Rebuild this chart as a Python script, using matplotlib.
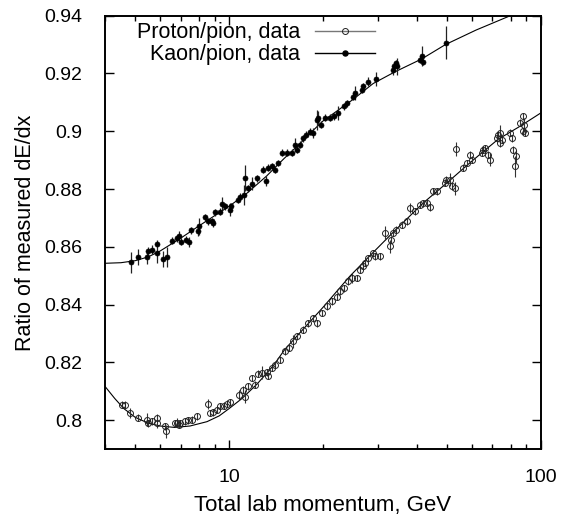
import matplotlib
matplotlib.use("Agg")
import matplotlib.pyplot as plt
from matplotlib.lines import Line2D
from matplotlib.ticker import FixedLocator, NullFormatter
import numpy as np

plt.rcParams['font.family'] = ['Liberation Sans', 'DejaVu Sans']

# ---------------- data ----------------
kaon_x = [4.84, 5.12, 5.47, 5.51, 5.65, 5.86, 5.86, 6.16, 6.31, 6.55, 6.80, 6.91, 7.01, 7.28,
          7.46, 7.55, 7.94, 8.00, 8.38, 8.54, 8.80, 8.90, 9.02, 9.36, 9.47, 9.71, 10.07, 10.15,
          10.71, 10.85, 11.25, 11.20, 11.53, 11.83, 12.33, 12.83, 13.15, 13.38, 13.70, 14.05,
          14.40, 14.83, 15.30, 15.89, 16.30, 16.50, 16.90, 17.30, 17.66, 18.20, 18.65, 19.10,
          19.30, 19.70, 20.30, 21.10, 21.70, 22.35, 23.3, 23.9, 25.05, 25.3, 26.7, 27.0, 28.0,
          29.6, 33.65, 33.8, 34.3, 34.6, 41.0, 41.5, 42.0, 49.6]
kaon_y = [0.8546, 0.8565, 0.8565, 0.8584, 0.8590, 0.8578, 0.8610, 0.8558, 0.8564, 0.8621,
          0.8630, 0.8636, 0.8617, 0.8625, 0.8617, 0.8657, 0.8653, 0.8671, 0.8702, 0.8688,
          0.8688, 0.8682, 0.8720, 0.8722, 0.8749, 0.8740, 0.8728, 0.8740, 0.8763, 0.8774,
          0.8838, 0.8780, 0.8803, 0.8818, 0.8838, 0.8867, 0.8829, 0.8873, 0.8878, 0.8867,
          0.8890, 0.8925, 0.8925, 0.8925, 0.8953, 0.8936, 0.8953, 0.8976, 0.8988, 0.8999,
          0.8994, 0.9040, 0.9046, 0.9022, 0.9046, 0.9046, 0.9051, 0.9063, 0.9086, 0.9097,
          0.9120, 0.9132, 0.9144, 0.9155, 0.9172, 0.9181, 0.9213, 0.9227, 0.9236, 0.9224,
          0.9247, 0.9259, 0.9241, 0.9307]
kaon_err = [0.0035, 0.0029, 0.0023, 0.0015, 0.0015, 0.0035, 0.0012, 0.0029, 0.0035, 0.0012,
            0.0012, 0.0017, 0.0012, 0.0012, 0.0017, 0.0012, 0.0017, 0.0029, 0.0012, 0.0012,
            0.0012, 0.0012, 0.0012, 0.0012, 0.0023, 0.0012, 0.0023, 0.0012, 0.0012, 0.0012,
            0.0046, 0.0035, 0.0012, 0.0023, 0.0012, 0.0012, 0.0017, 0.0012, 0.0012, 0.0012,
            0.0012, 0.0012, 0.0012, 0.0012, 0.0023, 0.0012, 0.0012, 0.0012, 0.0012, 0.0012,
            0.0017, 0.0035, 0.0023, 0.0012, 0.0012, 0.0012, 0.0012, 0.0023, 0.0012, 0.0012,
            0.0012, 0.0023, 0.0012, 0.0012, 0.0017, 0.0023, 0.0017, 0.0012, 0.0012, 0.0029,
            0.0012, 0.0035, 0.0012, 0.0058]

proton_x = [4.53, 4.64, 4.81, 5.09, 5.45, 5.51, 5.65, 5.86, 5.86, 6.23, 6.27, 6.71, 6.80, 6.89,
            6.96, 7.22, 7.40, 7.59, 7.88, 8.58, 8.70, 8.90, 9.13, 9.36, 9.60, 9.84, 10.07,
            10.77, 11.10, 11.25, 11.53, 11.83, 12.12, 12.42, 12.73, 13.20, 13.38, 13.70, 14.05,
            14.58, 15.10, 15.60, 16.08, 16.50, 17.30, 17.97, 18.65, 19.10, 19.84, 20.60, 21.35,
            22.15, 22.70, 23.30, 24.10, 24.75, 25.70, 26.30, 27.00, 27.30, 28.00, 29.00, 29.30,
            30.50, 31.60, 32.90, 33.20, 33.60, 34.30, 35.80, 37.20, 38.10, 39.50, 41.00, 42.00,
            43.10, 44.20, 45.20, 46.40, 49.30, 49.80, 51.20, 51.80, 53.10, 53.40, 56.50, 57.90,
            59.30, 60.00, 64.70, 65.40, 66.30, 67.60, 68.80, 72.30, 73.00, 74.00, 75.0, 74.0,
            79.7, 80.9, 81.7, 83.3, 83.0, 86.0, 87.5, 88.0, 88.5, 89.0]
proton_y = [0.8054, 0.8054, 0.8025, 0.8008, 0.8002, 0.7990, 0.7996, 0.8008, 0.7990, 0.7979,
            0.7961, 0.7990, 0.7992, 0.7984, 0.7990, 0.7996, 0.8000, 0.8002, 0.8013, 0.8057,
            0.8025, 0.8027, 0.8037, 0.8048, 0.8050, 0.8057, 0.8062, 0.8088, 0.8105, 0.8082,
            0.8117, 0.8146, 0.8123, 0.8161, 0.8164, 0.8166, 0.8154, 0.8181, 0.8192, 0.8209,
            0.8238, 0.8250, 0.8273, 0.8290, 0.8313, 0.8336, 0.8353, 0.8336, 0.8371, 0.8394,
            0.8411, 0.8428, 0.8446, 0.8457, 0.8480, 0.8492, 0.8492, 0.8521, 0.8532, 0.8544,
            0.8561, 0.8578, 0.8567, 0.8567, 0.8648, 0.8602, 0.8625, 0.8648, 0.8659, 0.8677,
            0.8688, 0.8734, 0.8723, 0.8746, 0.8751, 0.8751, 0.8737, 0.8792, 0.8792, 0.8821,
            0.8832, 0.8832, 0.8809, 0.8803, 0.8938, 0.8873, 0.8890, 0.8919, 0.8901, 0.8925,
            0.8936, 0.8942, 0.8919, 0.8901, 0.8976, 0.8988, 0.8959, 0.8971, 0.8994, 0.8994,
            0.8976, 0.8936, 0.8913, 0.8878, 0.9030, 0.9051, 0.9000, 0.9022, 0.8995]
proton_err = [0.0012, 0.0012, 0.0017, 0.0012, 0.0023, 0.0012, 0.0012, 0.0012, 0.0017, 0.0012,
              0.0023, 0.0012, 0.0017, 0.0012, 0.0012, 0.0012, 0.0012, 0.0012, 0.0012, 0.0017,
              0.0012, 0.0012, 0.0012, 0.0012, 0.0012, 0.0012, 0.0012, 0.0017, 0.0012, 0.0023,
              0.0012, 0.0012, 0.0012, 0.0012, 0.0023, 0.0012, 0.0012, 0.0012, 0.0012, 0.0012,
              0.0012, 0.0012, 0.0023, 0.0012, 0.0012, 0.0012, 0.0012, 0.0012, 0.0012, 0.0012,
              0.0012, 0.0012, 0.0012, 0.0012, 0.0012, 0.0017, 0.0012, 0.0012, 0.0012, 0.0012,
              0.0012, 0.0012, 0.0012, 0.0012, 0.0023, 0.0023, 0.0012, 0.0012, 0.0012, 0.0012,
              0.0012, 0.0017, 0.0012, 0.0012, 0.0012, 0.0012, 0.0012, 0.0012, 0.0012, 0.0012,
              0.0012, 0.0023, 0.0012, 0.0023, 0.0023, 0.0012, 0.0012, 0.0012, 0.0012, 0.0012,
              0.0012, 0.0012, 0.0012, 0.0023, 0.0012, 0.0012, 0.0012, 0.0012, 0.0029, 0.0012,
              0.0012, 0.0012, 0.0023, 0.0035, 0.0012, 0.0012, 0.0012, 0.0023, 0.0012]

# fit curves
kaon_fit_x = [4.0, 4.5, 5.0, 5.5, 6.0, 7.0, 8.0, 9.0, 10.0, 11.4, 13.2, 15.0, 17.0, 18.0, 20.0,
              25.0, 29.0, 34.0, 41.5, 49.5, 62.0, 80.0, 100.0]
kaon_fit_y = [0.8543, 0.8545, 0.8552, 0.8565, 0.8585, 0.8630, 0.8672, 0.8708, 0.8740, 0.8785,
              0.8845, 0.8905, 0.8960, 0.8988, 0.9035, 0.9110, 0.9165, 0.9205, 0.9250, 0.9300,
              0.9350, 0.9400, 0.9450]
proton_fit_x = [4.0, 4.3, 4.6, 5.0, 5.5, 6.0, 6.7, 7.5, 8.5, 9.3, 10.0, 11.0, 12.3, 13.9, 15.1,
                17.0, 20.0, 24.4, 28.0, 33.6, 42.0, 50.0, 58.0, 65.5, 73.0, 85.8, 100.0]
proton_fit_y = [0.8117, 0.8075, 0.8040, 0.8010, 0.7990, 0.7980, 0.7975, 0.7980, 0.7995, 0.8015,
                0.8040, 0.8075, 0.8125, 0.8190, 0.8245, 0.8306, 0.8390, 0.8498, 0.8564, 0.8650,
                0.8752, 0.8821, 0.8882, 0.8930, 0.8972, 0.9017, 0.9063]

x_ticks = [10, 100]
x_ticklabels = ["10", "100"]
y_ticks = [0.80, 0.82, 0.84, 0.86, 0.88, 0.90, 0.92, 0.94]
y_ticklabels = ["0.8", "0.82", "0.84", "0.86", "0.88", "0.9", "0.92", "0.94"]

# ---------------- figure ----------------
fig = plt.figure(figsize=(5.63, 5.21), dpi=100)
ax = fig.add_axes([0.1865, 0.138, 0.9604 - 0.1865, 0.970 - 0.138])

ax.plot(proton_fit_x, proton_fit_y, color='black', lw=0.8, zorder=2)
ax.plot(kaon_fit_x, kaon_fit_y, color='black', lw=0.8, zorder=2)

ax.errorbar(proton_x, proton_y, yerr=proton_err, fmt='o', ms=4.3, mfc='none', mec='#222222',
            mew=0.7, ecolor='#333333', elinewidth=0.8, capsize=0, zorder=3)
ax.errorbar(kaon_x, kaon_y, yerr=kaon_err, fmt='o', ms=3.6, mfc='black', mec='black',
            mew=0.5, ecolor='#222222', elinewidth=0.9, capsize=0, zorder=4)

ax.set_xscale('log')
ax.set_xlim(4, 100)
ax.set_ylim(0.79, 0.94)

ax.xaxis.set_major_locator(FixedLocator(x_ticks))
ax.set_xticklabels(x_ticklabels)
ax.xaxis.set_minor_locator(FixedLocator([4, 5, 6, 7, 8, 9, 20, 30, 40, 50, 60, 70, 80, 90]))
ax.xaxis.set_minor_formatter(NullFormatter())
ax.set_yticks(y_ticks)
ax.set_yticklabels(y_ticklabels)

ax.tick_params(which='both', direction='in', top=True, right=True, labelsize=14, width=1.0)
ax.tick_params(which='major', length=6.5)
ax.tick_params(which='minor', length=3.4)
ax.tick_params(axis='x', which='major', pad=14.5)
ax.tick_params(axis='y', which='major', pad=16.5)
for s in ax.spines.values():
    s.set_linewidth(1.4)

ax.set_xlabel("Total lab momentum, GeV", fontsize=16, labelpad=6.5)
ax.set_ylabel("Ratio of measured dE/dx", fontsize=15.5, labelpad=5.5)

handles = [
    Line2D([], [], color='#777777', lw=1.0, marker='o', ms=4.3, mfc='none', mec='#222222', mew=0.7),
    Line2D([], [], color='black', lw=1.0, marker='o', ms=3.6, mfc='black', mec='black'),
]
ax.legend(handles, ["Proton/pion, data", "Kaon/pion, data"], loc='upper right',
          bbox_to_anchor=(0.62, 0.985), markerfirst=False, frameon=False, numpoints=1,
          handlelength=2.8, handletextpad=0.7, labelspacing=0.05, fontsize=15.5,
          borderaxespad=0.0, borderpad=0.0)

fig.savefig("out.png", dpi=100)
